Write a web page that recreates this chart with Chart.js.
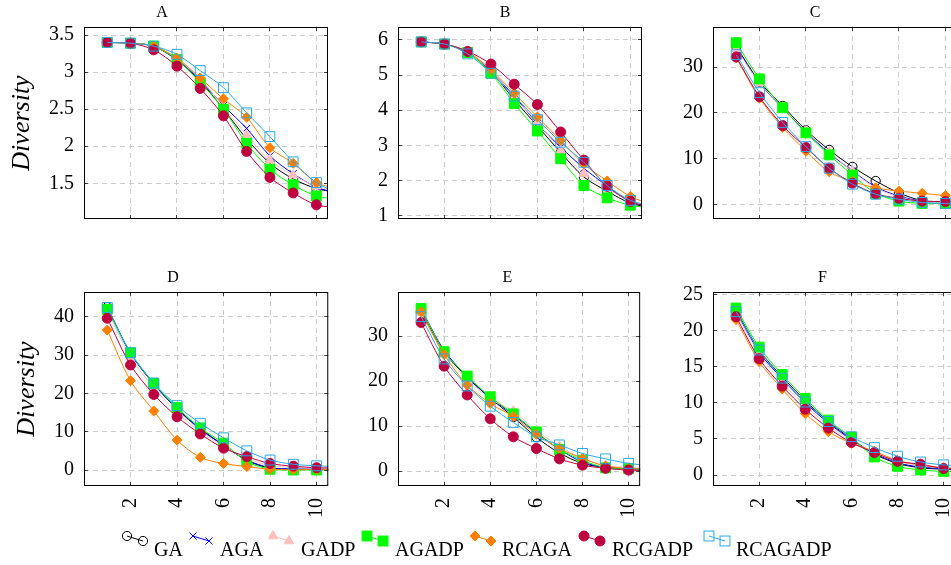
<!DOCTYPE html>
<html>
<head>
<meta charset="utf-8">
<script src="https://cdn.jsdelivr.net/npm/chart.js@4.4.1/dist/chart.umd.min.js"></script>
<style>
  html, body { margin:0; padding:0; background:#fff; }
  body { width:951px; height:565px; overflow:hidden; position:relative; }
  canvas { position:absolute; }
  .lgsvg { position:absolute; overflow:visible; }
  .lgtxt { position:absolute; font-family:"Liberation Serif", "Times New Roman", Times, "DejaVu Serif", serif; font-size:20px; line-height:20px; color:#000; white-space:nowrap; }
</style>
</head>
<body>
<script>
// ---------------- data ----------------
const xValues = [1, 2, 3, 4, 5, 6, 7, 8, 9, 10, 11];
const xTicks = [2, 4, 6, 8, 10];
const seriesNames = ['GA', 'AGA', 'GADP', 'AGADP', 'RCAGA', 'RCGADP', 'RCAGADP'];
const panelTitles = ['A', 'B', 'C', 'D', 'E', 'F'];
const yAxisTitle = 'Diversity';

const yTicksA = [1.5, 2, 2.5, 3, 3.5];
const yTicksB = [1, 2, 3, 4, 5, 6];
const yTicksC = [0, 10, 20, 30];
const yTicksD = [0, 10, 20, 30, 40];
const yTicksE = [0, 10, 20, 30];
const yTicksF = [0, 5, 10, 15, 20, 25];

// rows: GA, AGA, GADP, AGADP, RCAGA, RCGADP, RCAGADP ; columns: x = 1..11
const valuesA = [
  [3.40, 3.39, 3.35, 3.16, 2.88, 2.50, 2.10, 1.77, 1.56, 1.43, 1.37],
  [3.40, 3.39, 3.35, 3.17, 2.89, 2.55, 2.24, 1.87, 1.63, 1.45, 1.36],
  [3.40, 3.39, 3.35, 3.18, 2.91, 2.53, 2.15, 1.81, 1.61, 1.46, 1.39],
  [3.40, 3.39, 3.35, 3.17, 2.86, 2.50, 2.04, 1.69, 1.48, 1.33, 1.28],
  [3.40, 3.39, 3.35, 3.19, 2.92, 2.64, 2.39, 1.98, 1.77, 1.51, 1.42],
  [3.40, 3.39, 3.30, 3.08, 2.78, 2.41, 1.93, 1.58, 1.37, 1.21, 1.17],
  [3.40, 3.39, 3.35, 3.24, 3.02, 2.79, 2.45, 2.13, 1.79, 1.51, 1.36]
];
const valuesB = [
  [5.94, 5.88, 5.65, 5.10, 4.30, 3.55, 2.80, 2.10, 1.70, 1.36, 1.22],
  [5.94, 5.88, 5.65, 5.10, 4.40, 3.62, 2.95, 2.35, 1.85, 1.40, 1.24],
  [5.94, 5.88, 5.65, 5.12, 4.35, 3.66, 2.86, 2.20, 1.78, 1.42, 1.25],
  [5.94, 5.88, 5.64, 5.05, 4.19, 3.41, 2.62, 1.86, 1.51, 1.30, 1.22],
  [5.94, 5.88, 5.66, 5.15, 4.48, 3.81, 3.14, 2.47, 1.99, 1.55, 1.30],
  [5.94, 5.88, 5.67, 5.31, 4.74, 4.16, 3.38, 2.58, 1.84, 1.41, 1.22],
  [5.94, 5.88, 5.60, 5.05, 4.40, 3.73, 3.09, 2.52, 1.86, 1.44, 1.26]
];
const valuesC = [
  [34.5, 26.8, 21.5, 16.2, 11.9, 8.2, 5.1, 2.5, 0.8, 0.6, 0.5],
  [34.3, 26.5, 21.0, 15.8, 11.2, 7.3, 3.8, 1.8, 0.7, 0.5, 0.4],
  [34.0, 26.5, 21.2, 16.0, 11.5, 7.2, 3.6, 1.6, 0.6, 0.5, 0.4],
  [35.3, 27.4, 21.1, 15.6, 10.8, 6.4, 2.4, 0.7, 0.2, 0.2, 0.2],
  [32.0, 23.2, 16.8, 11.6, 7.1, 5.0, 3.6, 2.9, 2.4, 1.9, 1.5],
  [32.2, 23.5, 17.2, 12.4, 7.9, 4.6, 2.3, 1.3, 0.7, 0.6, 0.5],
  [32.7, 24.4, 17.9, 12.6, 7.9, 4.4, 2.2, 1.1, 0.4, 0.2, 0.2]
];
const valuesD = [
  [42.5, 30.5, 22.5, 16.0, 10.8, 6.5, 2.5, 0.5, 0.2, 0.2, 0.1],
  [42.3, 30.4, 22.4, 15.9, 10.6, 6.4, 2.6, 0.6, 0.3, 0.2, 0.1],
  [41.5, 29.5, 21.5, 15.0, 10.0, 6.3, 3.0, 1.2, 0.7, 0.5, 0.4],
  [41.9, 30.6, 22.6, 16.3, 11.0, 7.0, 2.2, 0.2, 0.0, 0.0, 0.0],
  [36.5, 23.3, 15.4, 7.8, 3.3, 1.7, 0.9, 0.2, 0.1, 0.1, 0.1],
  [39.6, 27.4, 19.7, 13.9, 9.4, 5.7, 3.5, 1.7, 1.0, 0.6, 0.5],
  [42.4, 30.6, 22.7, 16.8, 12.2, 8.4, 5.0, 2.6, 1.5, 1.1, 0.9]
];
const valuesE = [
  [35.5, 26.5, 20.8, 16.2, 12.0, 7.5, 4.0, 1.7, 0.8, 0.5, 0.4],
  [36.0, 26.8, 21.0, 16.3, 12.5, 8.5, 4.8, 2.0, 0.8, 0.5, 0.4],
  [35.2, 26.0, 20.5, 16.0, 13.3, 9.0, 5.5, 2.8, 1.2, 0.8, 0.6],
  [36.1, 26.5, 21.1, 16.5, 12.7, 8.7, 4.8, 2.4, 0.7, 0.5, 0.4],
  [35.4, 25.9, 19.1, 15.0, 12.1, 8.2, 5.0, 2.8, 1.1, 0.6, 0.4],
  [33.0, 23.3, 16.9, 11.6, 7.6, 5.0, 2.7, 1.3, 0.6, 0.2, 0.1],
  [34.3, 24.9, 18.9, 14.4, 10.8, 7.6, 5.8, 3.9, 2.7, 1.7, 1.2]
];
const valuesF = [
  [22.8, 17.3, 13.6, 10.3, 7.4, 5.0, 2.9, 1.6, 1.0, 0.8, 0.7],
  [22.6, 17.0, 13.3, 10.0, 7.2, 4.9, 3.0, 1.7, 1.1, 0.9, 0.8],
  [22.3, 16.8, 12.8, 9.6, 6.9, 4.7, 3.1, 1.9, 1.3, 1.0, 0.9],
  [23.1, 17.7, 13.9, 10.6, 7.6, 5.2, 2.5, 1.2, 0.7, 0.5, 0.5],
  [21.5, 15.7, 11.9, 8.5, 6.0, 4.4, 3.3, 2.0, 1.4, 1.0, 0.9],
  [21.9, 16.1, 12.3, 9.1, 6.5, 4.5, 3.1, 1.9, 1.5, 0.9, 0.8],
  [22.6, 17.3, 13.4, 10.1, 7.4, 5.3, 3.8, 2.6, 1.8, 1.4, 1.2]
];

// ---------------- styling / layout ----------------
const seriesStyle = [
  { color: '#000000', fill: 'rgba(0,0,0,0)', shape: 'circle',   r: 4.6 },
  { color: '#0000FF', fill: 'rgba(0,0,0,0)', shape: 'crossRot', r: 5 },
  { color: '#FFBFBF', fill: '#FFBFBF',       shape: 'triangle', r: 5.5 },
  { color: '#00FF00', fill: '#00FF00',       shape: 'rect',     r: 7 },
  { color: '#FF8000', fill: '#FF8000',       shape: 'rectRot',  r: 5 },
  { color: '#BF0040', fill: '#BF0040',       shape: 'circle',   r: 5 },
  { color: '#29A9E8', fill: 'rgba(0,0,0,0)', shape: 'rect',     r: 7 }
];
const colLeft = [84, 398, 713];
const rowTop = [27, 292];
const rowHeight = [192, 194];
const plotWidth = 244;

const panels = [
  { values: valuesA, ticks: yTicksA, min: 1.019, max: 3.608, row: 0, col: 0 },
  { values: valuesB, ticks: yTicksB, min: 0.909, max: 6.364, row: 0, col: 1 },
  { values: valuesC, ticks: yTicksC, min: -3.21, max: 38.74, row: 0, col: 2 },
  { values: valuesD, ticks: yTicksD, min: -4.17, max: 46.44, row: 1, col: 0 },
  { values: valuesE, ticks: yTicksE, min: -3.33, max: 39.78, row: 1, col: 1 },
  { values: valuesF, ticks: yTicksF, min: -1.52, max: 25.32, row: 1, col: 2 }
];

Chart.defaults.font.family = '"Liberation Serif", "Times New Roman", Times, "DejaVu Serif", serif';
Chart.defaults.color = '#000';

const framePlugin = {
  id: 'frame',
  afterDraw(chart) {
    const { ctx, chartArea: a, scales } = chart;
    ctx.save();
    ctx.strokeStyle = '#404040';
    ctx.lineWidth = 1;
    ctx.beginPath();
    for (const t of scales.x.ticks) {
      const px = Math.floor(scales.x.getPixelForValue(t.value)) + 0.5;
      ctx.moveTo(px, a.bottom); ctx.lineTo(px, a.bottom - 4);
      ctx.moveTo(px, a.top); ctx.lineTo(px, a.top + 4);
    }
    for (const t of scales.y.ticks) {
      const py = Math.floor(scales.y.getPixelForValue(t.value)) + 0.5;
      ctx.moveTo(a.left, py); ctx.lineTo(a.left + 4, py);
      ctx.moveTo(a.right, py); ctx.lineTo(a.right - 4, py);
    }
    ctx.stroke();
    ctx.strokeStyle = '#000';
    ctx.lineWidth = 1;
    ctx.strokeRect(a.left + 0.5, a.top + 0.5, a.right - a.left - 1, a.bottom - a.top - 1);
    ctx.restore();
  }
};

function makeChart(canvas, p, idx, w, h) {
  canvas.width = w; canvas.height = h;
  canvas.style.width = w + 'px'; canvas.style.height = h + 'px';
  const bottomRow = p.row === 1;
  return new Chart(canvas, {
    type: 'line',
    data: {
      datasets: seriesNames.map((name, i) => {
        const st = seriesStyle[i];
        return {
          label: name,
          data: xValues.map((x, j) => ({ x: x, y: p.values[i][j] })),
          borderColor: st.color,
          backgroundColor: st.fill,
          borderWidth: 1,
          pointStyle: st.shape,
          pointRadius: st.r,
          pointBorderColor: st.color,
          pointBackgroundColor: st.fill,
          pointBorderWidth: 1,
          tension: 0.3,
          fill: false,
          order: 6 - i,
          clip: 0
        };
      })
    },
    options: {
      responsive: false,
      maintainAspectRatio: false,
      animation: false,
      events: [],
      layout: { padding: { left: 0, right: 8, top: 0, bottom: bottomRow ? 4 : 2 } },
      plugins: {
        legend: { display: false },
        tooltip: { enabled: false },
        title: {
          display: true,
          text: panelTitles[idx],
          color: '#000',
          font: { size: 16, weight: 'normal', lineHeight: 1.25 },
          padding: { top: 4, bottom: 4 }
        }
      },
      scales: {
        x: {
          type: 'linear',
          min: 0, max: 10.5,
          afterBuildTicks: (s) => { s.ticks = xTicks.map(v => ({ value: v })); },
          afterFit: (s) => { s.height = Math.ceil(s.height); },
          ticks: {
            display: bottomRow,
            autoSkip: false,
            minRotation: 90, maxRotation: 90,
            padding: 12,
            color: '#000',
            font: { size: 20 },
            callback: (v) => String(v)
          },
          grid: { color: '#cccccc', lineWidth: 1, drawTicks: false },
          border: { display: false, dash: [5, 4] }
        },
        y: {
          type: 'linear',
          min: p.min, max: p.max,
          afterBuildTicks: (s) => { s.ticks = p.ticks.map(v => ({ value: v })); },
          afterFit: (s) => { s.width = Math.ceil(s.width); },
          ticks: {
            padding: 10,
            color: '#000',
            font: { size: 20 },
            callback: (v) => String(v)
          },
          grid: { color: '#cccccc', lineWidth: 1, drawTicks: false },
          border: { display: false, dash: [5, 4] },
          title: {
            display: p.col === 0,
            text: yAxisTitle,
            color: '#000',
            font: { size: 26, style: 'italic', lineHeight: 1.2 },
            padding: { top: 11, bottom: 0 }
          }
        }
      }
    },
    plugins: [framePlugin]
  });
}

panels.forEach((p, idx) => {
  const cv = document.createElement('canvas');
  document.body.appendChild(cv);
  const H = rowHeight[p.row];
  let w = 340, h = p.row === 1 ? 270 : 230;
  let ch = makeChart(cv, p, idx, w, h);
  let a = ch.chartArea;
  w = Math.round(w + plotWidth - (a.right - a.left));
  h = Math.round(h + H - (a.bottom - a.top));
  ch.destroy();
  ch = makeChart(cv, p, idx, w, h);
  a = ch.chartArea;
  cv.style.left = Math.round(colLeft[p.col] - a.left) + 'px';
  cv.style.top = Math.round(rowTop[p.row] - a.top) + 'px';
});

// ---------------- legend ----------------
const legendMarkerX = [127, 193, 273, 367, 475, 584, 709];
const legendTextX = [154, 220, 301, 395, 502, 612, 736];
const legendMarkerY = 535.5;
const legendBaseline = 556;

function svgMarker(st, cx, cy) {
  const r = st.r;
  const fill = st.fill;
  const common = `fill="${fill}" stroke="${st.color}" stroke-width="1"`;
  if (st.shape === 'circle') return `<circle cx="${cx}" cy="${cy}" r="${r}" ${common}/>`;
  if (st.shape === 'crossRot') {
    const d = r * Math.SQRT1_2;
    return `<path d="M${cx - d} ${cy - d}L${cx + d} ${cy + d}M${cx + d} ${cy - d}L${cx - d} ${cy + d}" stroke="${st.color}" stroke-width="1" fill="none"/>`;
  }
  if (st.shape === 'triangle') {
    return `<polygon points="${cx},${cy - r} ${cx + r * 0.866},${cy + r * 0.5} ${cx - r * 0.866},${cy + r * 0.5}" ${common}/>`;
  }
  if (st.shape === 'rect') {
    const s = r * Math.SQRT1_2;
    return `<rect x="${cx - s}" y="${cy - s}" width="${2 * s}" height="${2 * s}" ${common}/>`;
  }
  if (st.shape === 'rectRot') {
    return `<polygon points="${cx},${cy - r} ${cx + r},${cy} ${cx},${cy + r} ${cx - r},${cy}" ${common}/>`;
  }
  return '';
}

seriesNames.forEach((name, i) => {
  const st = seriesStyle[i];
  const ox = legendMarkerX[i] - 8, oy = legendMarkerY - 8;
  const x1 = 8, y1 = 8, x2 = 24, y2 = 13;
  const svg = document.createElementNS('http://www.w3.org/2000/svg', 'svg');
  svg.setAttribute('class', 'lgsvg');
  svg.setAttribute('width', '34');
  svg.setAttribute('height', '24');
  svg.style.left = ox + 'px';
  svg.style.top = oy + 'px';
  svg.innerHTML = `<line x1="${x1}" y1="${y1}" x2="${x2}" y2="${y2}" stroke="${st.color}" stroke-width="1"/>` +
    svgMarker(st, x1, y1) + svgMarker(st, x2, y2);
  document.body.appendChild(svg);
  const sp = document.createElement('span');
  sp.className = 'lgtxt';
  sp.textContent = name;
  sp.style.left = legendTextX[i] + 'px';
  sp.style.top = (legendBaseline - 16.75) + 'px';
  document.body.appendChild(sp);
});
</script>
</body>
</html>
